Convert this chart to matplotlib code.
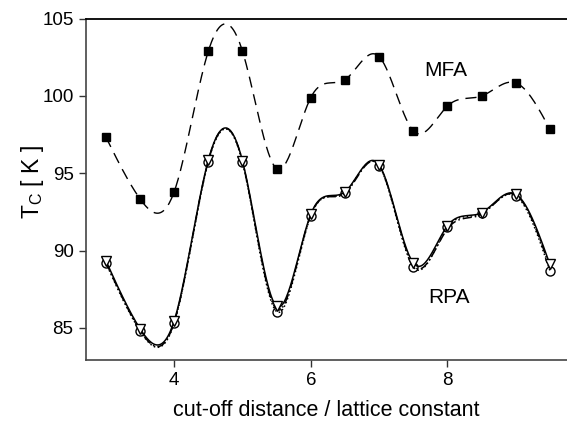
import numpy as np
import matplotlib
matplotlib.use("Agg")
import matplotlib.pyplot as plt

plt.rcParams['font.family'] = ['Liberation Sans', 'DejaVu Sans']

# data
cutoff = [3.0, 3.5, 4.0, 4.5, 5.0, 5.5, 6.0, 6.5, 7.0, 7.5, 8.0, 8.5, 9.0, 9.5]
tc_mfa = [97.35, 93.35, 93.8, 102.9, 102.9, 95.3, 99.9, 101.05, 102.55, 97.75, 99.35, 100.0, 100.85, 97.85]
tc_rpa_a = [89.35, 84.95, 85.45, 95.85, 95.8, 86.4, 92.35, 93.8, 95.55, 89.2, 91.6, 92.45, 93.65, 89.1]
tc_rpa_b = [89.2, 84.8, 85.3, 95.75, 95.7, 86.05, 92.25, 93.75, 95.5, 88.95, 91.5, 92.4, 93.55, 88.7]
tc_rpa_c = [89.25, 84.85, 85.35, 95.8, 95.75, 86.2, 92.3, 93.7, 95.5, 89.05, 91.4, 92.35, 93.6, 88.9]
yticks = [85, 90, 95, 100, 105]
xticks = [4, 6, 8]


def natural_spline(x, y, n=400):
    x = np.asarray(x, float)
    y = np.asarray(y, float)
    m = len(x)
    h = np.diff(x)
    A = np.zeros((m, m))
    r = np.zeros(m)
    A[0, 0] = 1
    A[-1, -1] = 1
    for i in range(1, m - 1):
        A[i, i - 1] = h[i - 1]
        A[i, i] = 2 * (h[i - 1] + h[i])
        A[i, i + 1] = h[i]
        r[i] = 3 * ((y[i + 1] - y[i]) / h[i] - (y[i] - y[i - 1]) / h[i - 1])
    c = np.linalg.solve(A, r)
    b = (np.diff(y) / h) - h * (2 * c[:-1] + c[1:]) / 3
    d = np.diff(c) / (3 * h)
    xs = np.linspace(x[0], x[-1], n)
    idx = np.clip(np.searchsorted(x, xs) - 1, 0, m - 2)
    dx = xs - x[idx]
    ys = y[idx] + b[idx] * dx + c[idx] * dx ** 2 + d[idx] * dx ** 3
    return xs, ys


fig = plt.figure(figsize=(5.67, 4.25), dpi=100)
ax = fig.add_axes([0.1517, 0.154, 0.8483, 0.802])

# MFA
xs, ys = natural_spline(cutoff, tc_mfa)
ax.plot(xs, ys, color='black', lw=1.0, dashes=(8, 5))
ax.plot(cutoff, tc_mfa, ls='none', marker='s', ms=6.2, mfc='black', mec='black')

# RPA
for vals, style in [(tc_rpa_c, (0, (6, 2, 1, 2))), (tc_rpa_b, ':'), (tc_rpa_a, '-')]:
    xs, ys = natural_spline(cutoff, vals)
    ax.plot(xs, ys, color='black', lw=1.1, ls=style)
ax.plot(cutoff, tc_rpa_b, ls='none', marker='o', ms=6.5, mfc='none', mec='black', mew=1.0)
ax.plot(cutoff, tc_rpa_a, ls='none', marker='v', ms=7.5, mfc='white', mec='black', mew=1.0)

ax.text(7.98, 101.65, 'MFA', fontsize=15, ha='center', va='center')
ax.text(8.03, 86.95, 'RPA', fontsize=15, ha='center', va='center')

ax.set_xlim(2.71, 9.75)
ax.set_ylim(82.95, 105)
ax.set_xticks(xticks)
ax.set_yticks(yticks)
ax.tick_params(direction='out', length=5, width=1, labelsize=13.5, colors='#333333', pad=4)
for lab in ax.get_xticklabels() + ax.get_yticklabels():
    lab.set_color('black')
ax.spines['right'].set_visible(False)
ax.spines['top'].set_color('black')
ax.spines['top'].set_linewidth(1.3)
for s in ['left', 'bottom']:
    ax.spines[s].set_color('#444444')
    ax.spines[s].set_linewidth(1.2)

ax.set_xlabel('cut-off distance / lattice constant', fontsize=15.5, labelpad=8)
ax.set_ylabel('T$_\\mathregular{C}$ [ K ]', fontsize=16.5)
ax.yaxis.set_label_coords(-0.083, 0.52)

fig.savefig('out.png', dpi=100)
